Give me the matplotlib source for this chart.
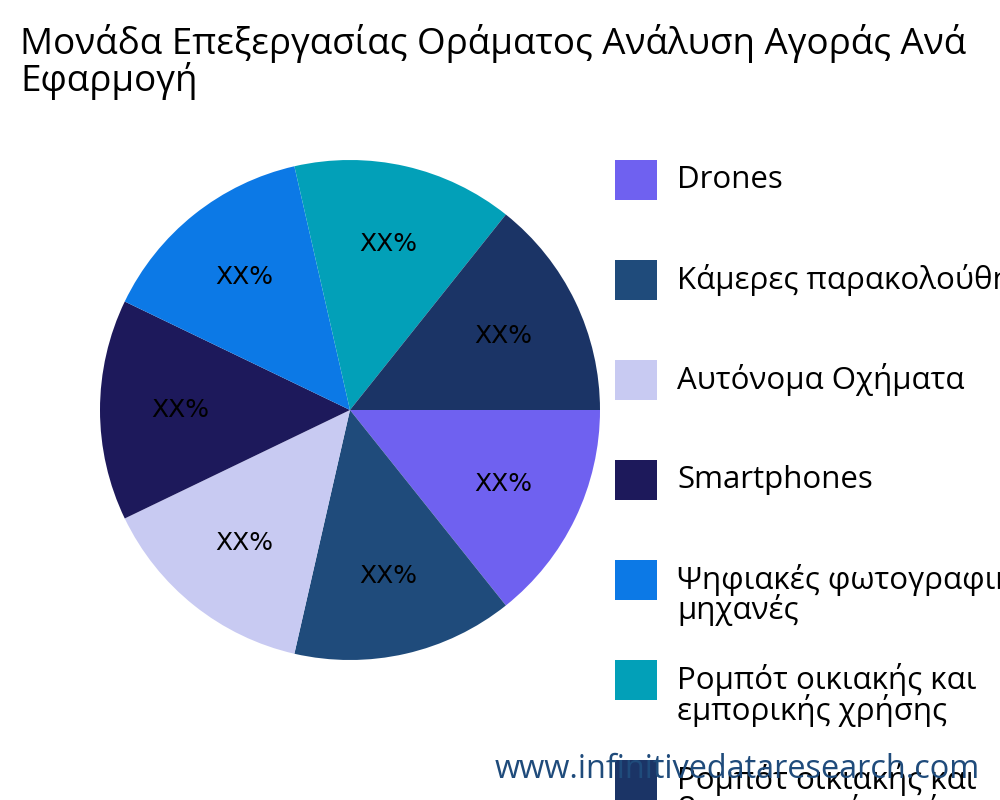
import matplotlib
matplotlib.use("Agg")
import matplotlib.pyplot as plt
from matplotlib.patches import Rectangle
import numpy as np

plt.rcParams['font.family'] = ['Open Sans', 'DejaVu Sans']

labels = ["Drones", "Κάμερες παρακολούθησης", "Αυτόνομα Οχήματα", "Smartphones",
          "Ψηφιακές φωτογραφικές\nμηχανές", "Ρομπότ οικιακής και\nεμπορικής χρήσης",
          "Ρομπότ οικιακής και\nβιομηχανικής χρήσης"]
values = [1, 1, 1, 1, 1, 1, 1]
colors = ["#6F61F0", "#1F4B7B", "#C8CAF2", "#1D195B", "#0C79E6", "#02A0B8", "#1B3466"]

W, H = 1000, 800
fig = plt.figure(figsize=(10, 8), dpi=100)
ax = fig.add_axes([0.10, 0.175, 0.50, 0.625])
wedges, texts = ax.pie(values, colors=colors, startangle=0, counterclock=False)
for w in wedges:
    ang = np.deg2rad((w.theta1 + w.theta2) / 2)
    ax.text(0.68 * np.cos(ang), 0.68 * np.sin(ang), "XX%", ha='center', va='center', fontsize=18,
            family=['DejaVu Sans'])
ax.set_xlim(-1, 1)
ax.set_ylim(-1, 1)
ax.set_aspect('equal')

fig.text(0.02, 0.97, "Μονάδα Επεξεργασίας Οράματος Ανάλυση Αγοράς Ανά\nΕφαρμογή", fontsize=26.5,
         va='top', ha='left', linespacing=0.95)

# legend drawn manually with fixed spacing
for i, (lab, col) in enumerate(zip(labels, colors)):
    yc = 180 + 100 * i
    fig.patches.append(Rectangle((615 / W, 1 - (yc + 20) / H), 42 / W, 40 / H,
                                 transform=fig.transFigure, facecolor=col, edgecolor='none'))
    nlines = lab.count("\n") + 1
    fig.text(677 / W, 1 - (yc + 15 * (nlines - 1)) / H, lab, fontsize=22.5, va='center',
             ha='left', linespacing=0.9)

fig.text(0.98, 1 - 770 / H, "www.infinitivedataresearch.com", fontsize=23.4, color="#1F4B7B",
         ha='right', va='center')
fig.savefig("out.png")
